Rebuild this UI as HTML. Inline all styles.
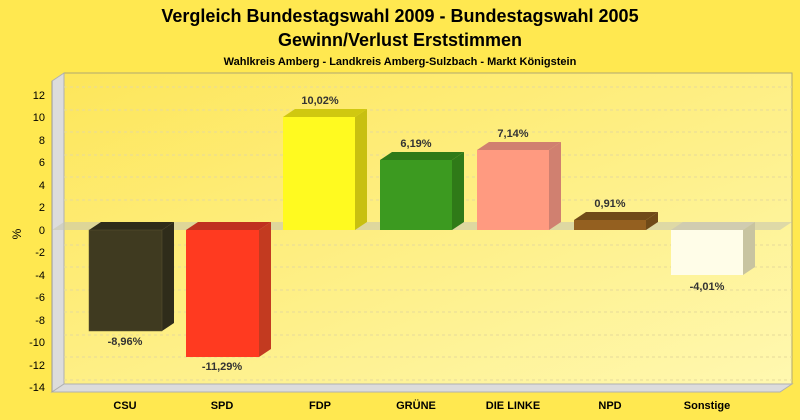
<!DOCTYPE html>
<html><head><meta charset="utf-8"><style>
body{margin:0;background:#FFE850}
svg{display:block;font-family:"Liberation Sans",sans-serif}
</style></head><body>
<svg width="800" height="420" viewBox="0 0 800 420" xmlns="http://www.w3.org/2000/svg">
<defs>
<linearGradient id="bg" x1="0" y1="0" x2="1" y2="1">
<stop offset="0" stop-color="#FDE65A"/><stop offset="1" stop-color="#FFF8B0"/>
</linearGradient>
</defs>
<rect width="800" height="420" fill="#FFE850"/>
<text x="400" y="22" text-anchor="middle" font-size="18" font-weight="bold">Vergleich Bundestagswahl 2009 - Bundestagswahl 2005</text>
<text x="400" y="46" text-anchor="middle" font-size="18" font-weight="bold">Gewinn/Verlust Erststimmen</text>
<text x="400" y="65" text-anchor="middle" font-size="11" font-weight="bold">Wahlkreis Amberg - Landkreis Amberg-Sulzbach - Markt Königstein</text>
<rect x="64" y="73" width="728" height="311" fill="url(#bg)" stroke="#b0a870" stroke-width="1"/>
<polygon points="52,81 64,73 64,384 52,392" fill="#dcdcdc" stroke="#b0b0b0"/>
<polygon points="52,392 64,384 792,384 780,392" fill="#dcdcdc" stroke="#b0b0b0"/>
<g stroke="#e6da9a" stroke-dasharray="3,3" stroke-width="1">
<line x1="64" y1="87" x2="792" y2="87"/><line x1="64" y1="110" x2="792" y2="110"/>
<line x1="64" y1="132" x2="792" y2="132"/><line x1="64" y1="155" x2="792" y2="155"/>
<line x1="64" y1="177" x2="792" y2="177"/><line x1="64" y1="200" x2="792" y2="200"/>
<line x1="64" y1="245" x2="792" y2="245"/><line x1="64" y1="267" x2="792" y2="267"/>
<line x1="64" y1="290" x2="792" y2="290"/><line x1="64" y1="312" x2="792" y2="312"/>
<line x1="64" y1="335" x2="792" y2="335"/><line x1="64" y1="357" x2="792" y2="357"/>
<line x1="64" y1="380" x2="792" y2="380"/>
</g>
<line x1="52" y1="81" x2="52" y2="392" stroke="#999"/>
<g font-size="11" text-anchor="end" fill="#000">
<text x="45" y="99">12</text><text x="45" y="121">10</text><text x="45" y="144">8</text>
<text x="45" y="166">6</text><text x="45" y="189">4</text><text x="45" y="211">2</text>
<text x="45" y="234">0</text><text x="45" y="256">-2</text><text x="45" y="279">-4</text>
<text x="45" y="301">-6</text><text x="45" y="324">-8</text><text x="45" y="346">-10</text>
<text x="45" y="369">-12</text><text x="45" y="391">-14</text>
</g>
<text x="21" y="234" font-size="12" transform="rotate(-90 21 234)" text-anchor="middle">%</text>
<polygon points="52,230 64,222 792,222 780,230" fill="#c8c8b0" opacity="0.6"/>
<polygon points="162,230 174,222 174,323 162,331" fill="#2f2c1a"/>
<polygon points="89,230 101,222 174,222 162,230" fill="#2f2c1a"/>
<rect x="89" y="230" width="73" height="101" fill="#3f3a20" stroke="#5a5530" stroke-width="0.5"/>
<polygon points="259,230 271,222 271,349 259,357" fill="#c33a20"/>
<polygon points="186,230 198,222 271,222 259,230" fill="#c03020"/>
<rect x="186" y="230" width="73" height="127" fill="#ff3a20"/>
<polygon points="355,117 367,109 367,222 355,230" fill="#c8c010"/>
<polygon points="283,117 295,109 367,109 355,117" fill="#d0c810"/>
<rect x="283" y="117" width="72" height="113" fill="#fffa20"/>
<polygon points="452,160 464,152 464,222 452,230" fill="#2f7a18"/>
<polygon points="380,160 392,152 464,152 452,160" fill="#2f7a18"/>
<rect x="380" y="160" width="72" height="70" fill="#3c9a20"/>
<polygon points="549,150 561,142 561,222 549,230" fill="#d08070"/>
<polygon points="477,150 489,142 561,142 549,150" fill="#d08070"/>
<rect x="477" y="150" width="72" height="80" fill="#ff9a80"/>
<polygon points="646,220 658,212 658,222 646,230" fill="#704a18"/>
<polygon points="574,220 586,212 658,212 646,220" fill="#704a18"/>
<rect x="574" y="220" width="72" height="10" fill="#946020"/>
<polygon points="743,230 755,222 755,267 743,275" fill="#c8c4a0"/>
<polygon points="671,230 683,222 755,222 743,230" fill="#d0ccb0"/>
<rect x="671" y="230" width="72" height="45" fill="#fffde8"/>
<g font-size="11" font-weight="bold" text-anchor="middle" fill="#333">
<text x="125" y="345">-8,96%</text>
<text x="222" y="370">-11,29%</text>
<text x="320" y="104">10,02%</text>
<text x="416" y="147">6,19%</text>
<text x="513" y="137">7,14%</text>
<text x="610" y="207">0,91%</text>
<text x="707" y="290">-4,01%</text>
</g>
<g font-size="11" font-weight="bold" text-anchor="middle" fill="#000">
<text x="125" y="409">CSU</text><text x="222" y="409">SPD</text><text x="320" y="409">FDP</text>
<text x="416" y="409">GRÜNE</text><text x="513" y="409">DIE LINKE</text><text x="610" y="409">NPD</text>
<text x="707" y="409">Sonstige</text>
</g>
</svg>
</body></html>
